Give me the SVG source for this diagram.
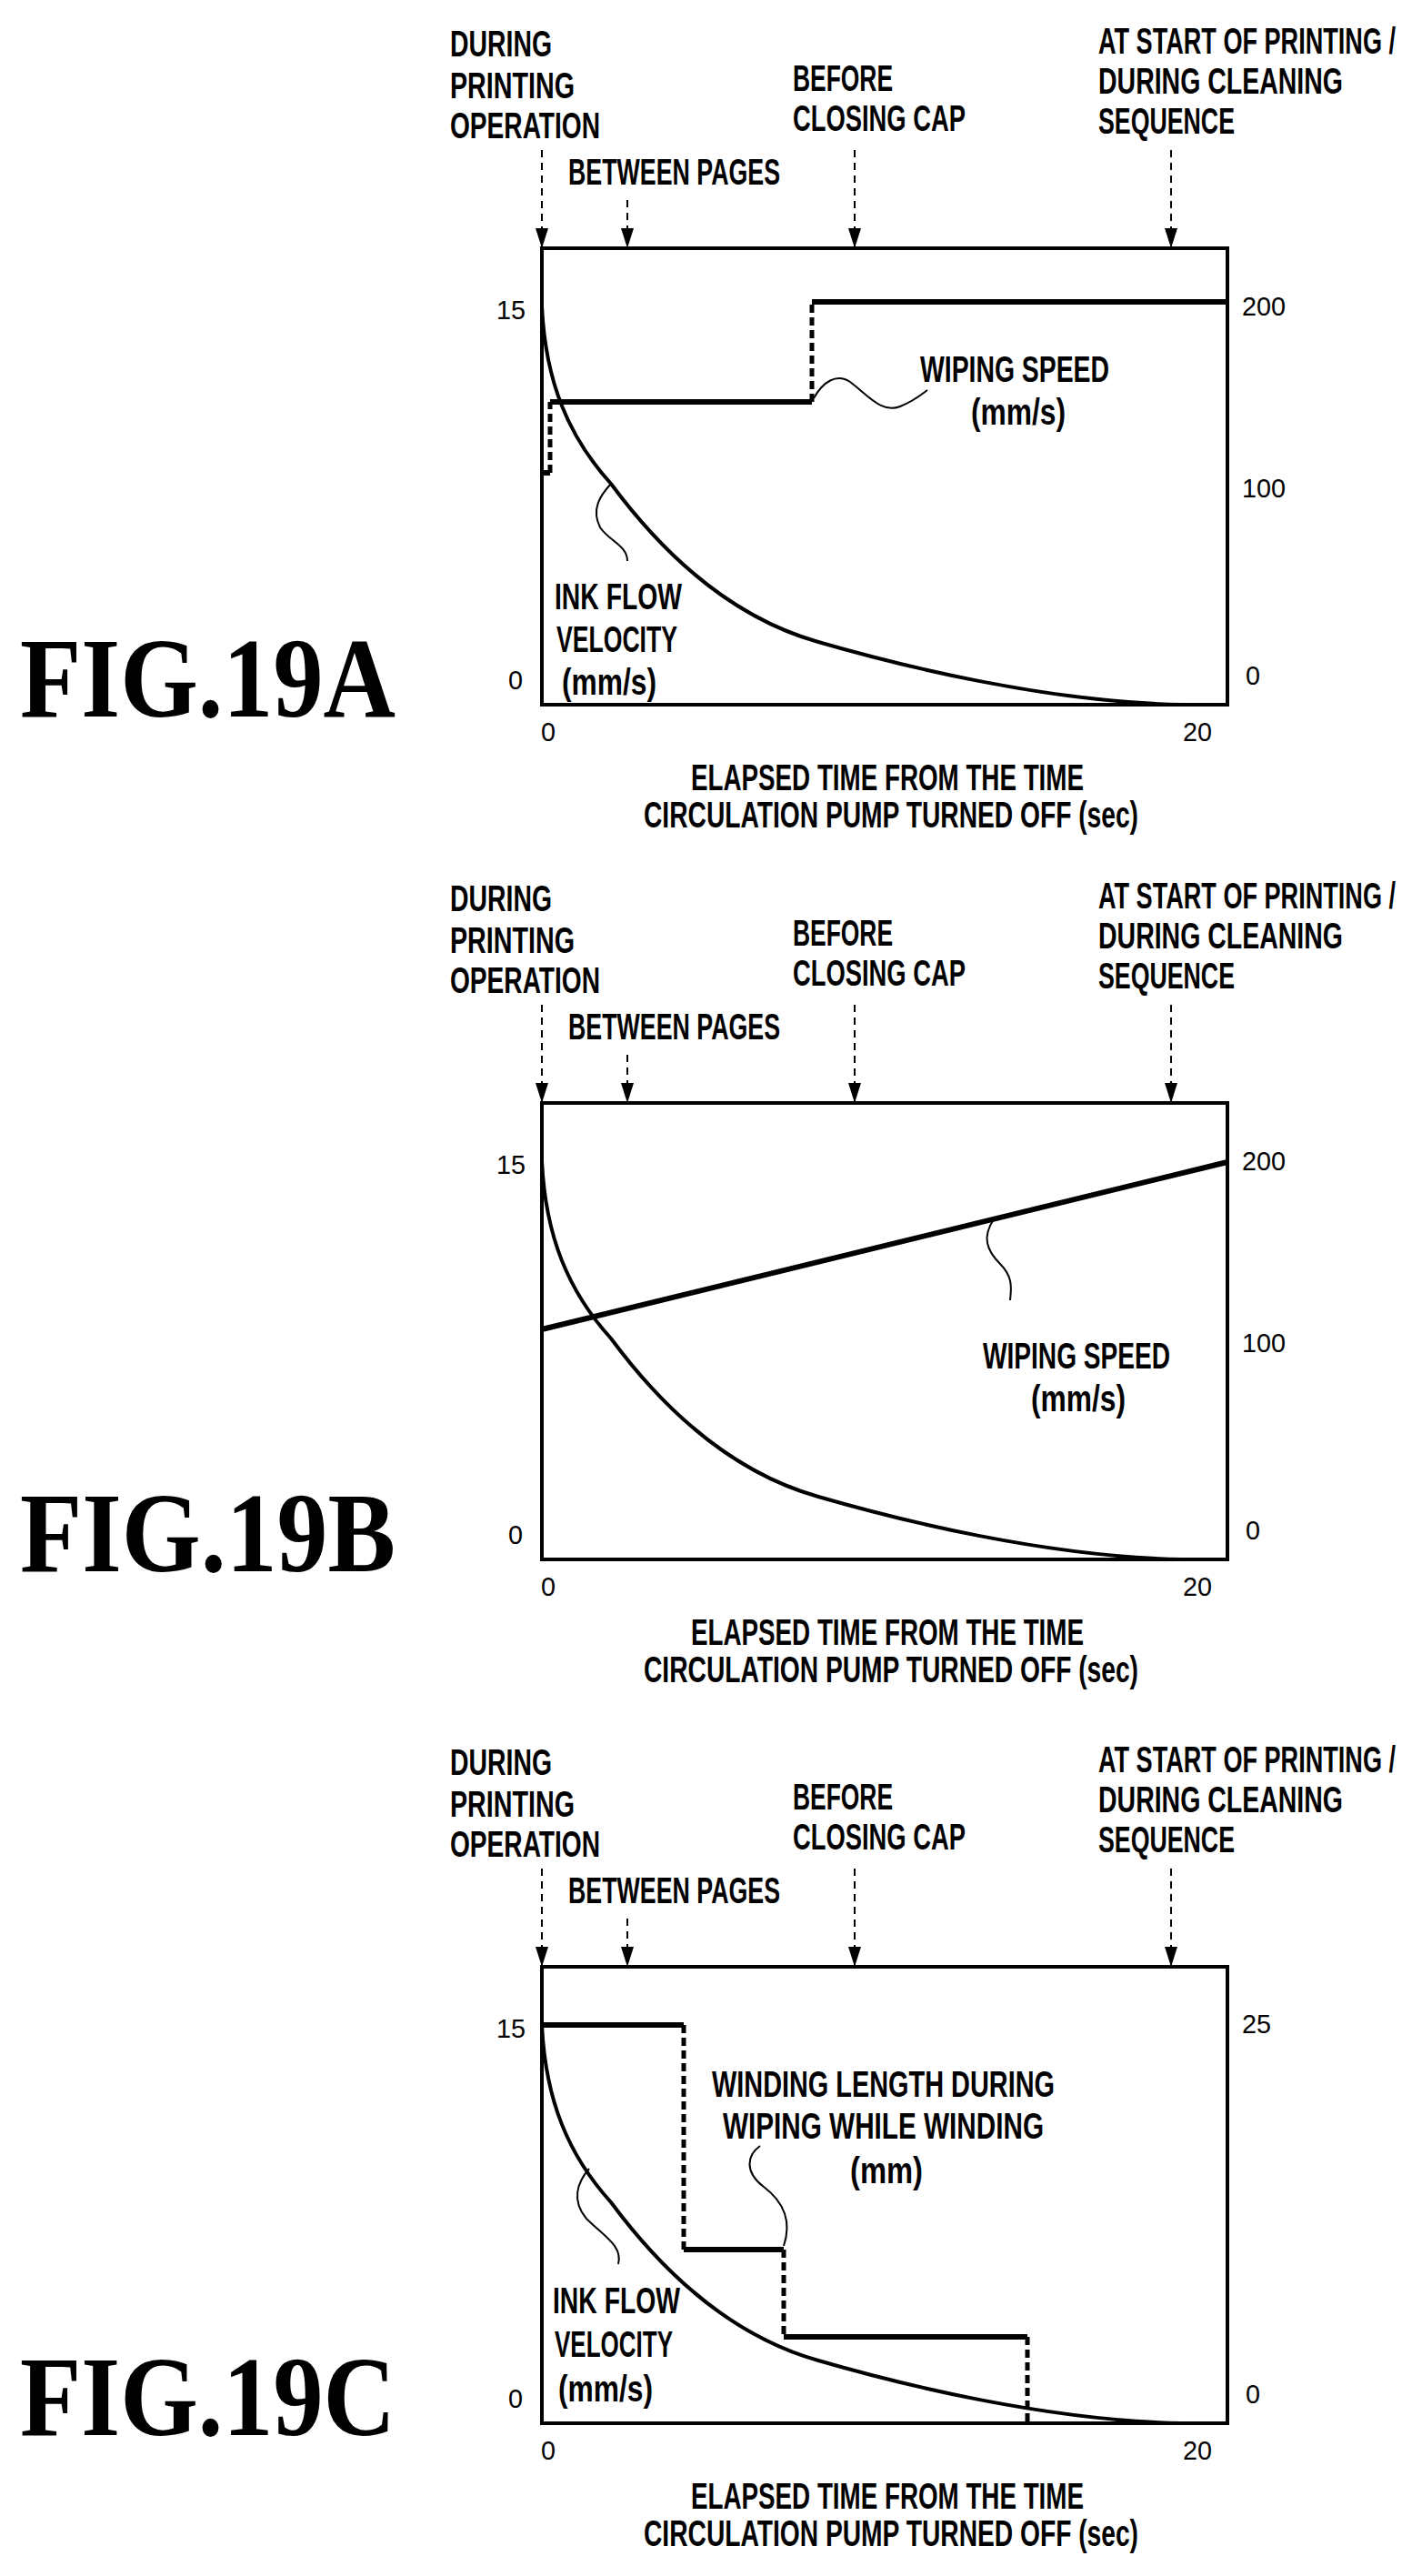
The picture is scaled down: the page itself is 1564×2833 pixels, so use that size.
<svg xmlns="http://www.w3.org/2000/svg" xmlns:xlink="http://www.w3.org/1999/xlink" width="1564" height="2833" viewBox="0 0 1564 2833">
<style>
.lb{font-family:"Liberation Sans",Arial,sans-serif;font-weight:bold;font-size:40px;fill:#000}
.nm{font-family:"Liberation Sans",Arial,sans-serif;font-size:30px;fill:#000}
.fig{font-family:"Liberation Serif","Times New Roman",serif;font-weight:bold;font-size:124px;fill:#000}
.box{fill:none;stroke:#000;stroke-width:4}
.arr{fill:none;stroke:#000;stroke-width:2;stroke-dasharray:8,6}
.crv{fill:none;stroke:#000;stroke-width:4}
.stp{fill:none;stroke:#000;stroke-width:6}
.dsh{fill:none;stroke:#000;stroke-width:5;stroke-dasharray:9,5}
.ld{fill:none;stroke:#000;stroke-width:2}
</style>
<defs>
<marker id="ah" markerWidth="22" markerHeight="14" refX="22" refY="7" orient="auto" markerUnits="userSpaceOnUse" viewBox="0 0 22 14"><path d="M0,0 L22,7 L0,14 Z" fill="#000"/></marker>
<path id="ink" d="M596,337 C600,420 625,480 672,532 C715,590 790,675 900,706 C990,732 1150,772 1300,775"/>
<g id="top">
<text class="lb" x="495" y="62" textLength="112" lengthAdjust="spacingAndGlyphs">DURING</text>
<text class="lb" x="495" y="108" textLength="137" lengthAdjust="spacingAndGlyphs">PRINTING</text>
<text class="lb" x="495" y="152" textLength="165" lengthAdjust="spacingAndGlyphs">OPERATION</text>
<text class="lb" x="625" y="203" textLength="233" lengthAdjust="spacingAndGlyphs">BETWEEN PAGES</text>
<text class="lb" x="872" y="100" textLength="110" lengthAdjust="spacingAndGlyphs">BEFORE</text>
<text class="lb" x="872" y="144" textLength="190" lengthAdjust="spacingAndGlyphs">CLOSING CAP</text>
<text class="lb" x="1208" y="59" textLength="327" lengthAdjust="spacingAndGlyphs">AT START OF PRINTING /</text>
<text class="lb" x="1208" y="103" textLength="269" lengthAdjust="spacingAndGlyphs">DURING CLEANING</text>
<text class="lb" x="1208" y="147" textLength="150" lengthAdjust="spacingAndGlyphs">SEQUENCE</text>
<line class="arr" x1="596" y1="165" x2="596" y2="273" marker-end="url(#ah)"/>
<line class="arr" x1="690" y1="220" x2="690" y2="273" marker-end="url(#ah)"/>
<line class="arr" x1="940" y1="165" x2="940" y2="273" marker-end="url(#ah)"/>
<line class="arr" x1="1288" y1="165" x2="1288" y2="273" marker-end="url(#ah)"/>
<rect class="box" x="596" y="273" width="754" height="502"/>
<text class="nm" x="546" y="351" textLength="32" lengthAdjust="spacingAndGlyphs">15</text>
<text class="nm" x="559" y="758" textLength="16" lengthAdjust="spacingAndGlyphs">0</text>
<text class="nm" x="595" y="815" textLength="16" lengthAdjust="spacingAndGlyphs">0</text>
<text class="nm" x="1301" y="815" textLength="32" lengthAdjust="spacingAndGlyphs">20</text>
<text class="lb" x="760" y="869" textLength="432" lengthAdjust="spacingAndGlyphs">ELAPSED TIME FROM THE TIME</text>
<text class="lb" x="708" y="910" textLength="544" lengthAdjust="spacingAndGlyphs">CIRCULATION PUMP TURNED OFF (sec)</text>
<use xlink:href="#ink" class="crv"/>
</g>
</defs>

<g id="fig19a">
<use xlink:href="#top"/>
<text class="fig" x="22" y="788" textLength="413" lengthAdjust="spacingAndGlyphs">FIG.19A</text>
<text class="nm" x="1366" y="347" textLength="48" lengthAdjust="spacingAndGlyphs">200</text>
<text class="nm" x="1366" y="547" textLength="48" lengthAdjust="spacingAndGlyphs">100</text>
<text class="nm" x="1370" y="753" textLength="16" lengthAdjust="spacingAndGlyphs">0</text>
<g id="wipeA">
<path class="dsh" d="M605,520 L605,442"/>
<path class="stp" d="M596,520 L605,520"/>
<path class="stp" d="M605,442 L893,442"/>
<path class="dsh" d="M893,442 L893,332"/>
<path class="stp" d="M893,332 L1350,332"/>
<path class="ld" d="M895,438 C905,420 920,410 935,420 C955,435 970,455 990,447 C1005,441 1012,435 1020,429"/>
<text class="lb" x="1012" y="420" textLength="208" lengthAdjust="spacingAndGlyphs">WIPING SPEED</text>
<text class="lb" x="1068" y="467" textLength="104" lengthAdjust="spacingAndGlyphs">(mm/s)</text>
</g>
<g id="inkA">
<path class="ld" d="M672,532 C660,545 650,560 660,580 C670,595 690,600 690,617"/>
<text class="lb" x="610" y="670" textLength="140" lengthAdjust="spacingAndGlyphs">INK FLOW</text>
<text class="lb" x="612" y="717" textLength="133" lengthAdjust="spacingAndGlyphs">VELOCITY</text>
<text class="lb" x="618" y="764" textLength="104" lengthAdjust="spacingAndGlyphs">(mm/s)</text>
</g>
</g>

<g id="fig19b" transform="translate(0,940)">
<use xlink:href="#top"/>
<text class="fig" x="22" y="788" textLength="413" lengthAdjust="spacingAndGlyphs">FIG.19B</text>
<text class="nm" x="1366" y="347" textLength="48" lengthAdjust="spacingAndGlyphs">200</text>
<text class="nm" x="1366" y="547" textLength="48" lengthAdjust="spacingAndGlyphs">100</text>
<text class="nm" x="1370" y="753" textLength="16" lengthAdjust="spacingAndGlyphs">0</text>
<path class="stp" d="M596,522 L1350,338"/>
<path class="ld" d="M1093,401 C1080,420 1085,435 1100,450 C1115,465 1112,478 1111,490"/>
<text class="lb" x="1081" y="565" textLength="206" lengthAdjust="spacingAndGlyphs">WIPING SPEED</text>
<text class="lb" x="1134" y="612" textLength="104" lengthAdjust="spacingAndGlyphs">(mm/s)</text>
</g>

<g id="fig19c" transform="translate(0,1890)">
<use xlink:href="#top"/>
<text class="fig" x="22" y="788" textLength="413" lengthAdjust="spacingAndGlyphs">FIG.19C</text>
<text class="nm" x="1366" y="346" textLength="32" lengthAdjust="spacingAndGlyphs">25</text>
<text class="nm" x="1370" y="753" textLength="16" lengthAdjust="spacingAndGlyphs">0</text>
<path class="stp" d="M596,337 L752,337"/>
<path class="dsh" d="M752,337 L752,584"/>
<path class="stp" d="M752,584 L862,584"/>
<path class="dsh" d="M862,584 L862,680"/>
<path class="stp" d="M862,680 L1130,680"/>
<path class="dsh" d="M1130,680 L1130,773"/>
<path class="ld" d="M862,580 C872,550 860,530 840,515 C818,498 822,480 836,470"/>
<text class="lb" x="783" y="416" textLength="377" lengthAdjust="spacingAndGlyphs">WINDING LENGTH DURING</text>
<text class="lb" x="795" y="462" textLength="353" lengthAdjust="spacingAndGlyphs">WIPING WHILE WINDING</text>
<text class="lb" x="935" y="511" textLength="80" lengthAdjust="spacingAndGlyphs">(mm)</text>
<path class="ld" d="M648,495 C635,510 628,530 645,550 C665,570 685,580 680,600"/>
<text class="lb" x="608" y="654" textLength="140" lengthAdjust="spacingAndGlyphs">INK FLOW</text>
<text class="lb" x="610" y="702" textLength="130" lengthAdjust="spacingAndGlyphs">VELOCITY</text>
<text class="lb" x="614" y="751" textLength="104" lengthAdjust="spacingAndGlyphs">(mm/s)</text>
</g>
</svg>
